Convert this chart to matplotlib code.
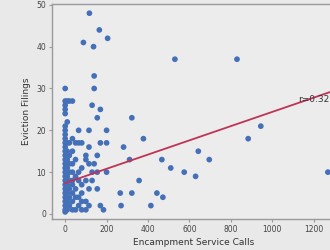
import matplotlib
matplotlib.use('Agg')
import matplotlib.pyplot as plt

# encampment service calls vs eviction filings
calls = [
    # x = 0 column
    0, 0, 0, 0, 0, 0, 0, 0, 0, 0, 0, 0, 0, 0, 0, 0, 0, 0, 0, 0, 0, 0, 0, 0, 0, 0, 0,
    # small-call cluster
    10, 10, 10, 10, 10, 10, 10, 10, 10, 10, 10,
    20, 20, 20, 20, 20, 20, 20, 20, 20,
    35, 35, 35, 35, 35, 35, 35, 35, 35, 35,
    50, 50, 50, 50, 50, 50,
    65, 65, 65, 65, 65, 65,
    80, 80, 80, 80, 80, 80,
    100, 100, 100, 100, 100,
    115, 115, 115, 115, 115,
    130, 130, 130,
    140, 140, 140,
    155, 155, 155, 155,
    170, 170, 170,
    185, 200, 200, 200,
    # upper outliers
    88, 117, 137, 165, 205,
    # spread-out points
    266, 270, 282, 311, 322, 322, 357, 378, 414, 443, 467, 472,
    510, 530, 575, 630, 643, 696, 830, 884, 945, 1269,
]
filings = [
    1, 2, 3, 4, 5, 6, 7, 8, 9, 10, 11, 12, 13, 14, 15, 16, 17, 18, 19, 20, 21, 24, 25, 26, 27, 30, 0.5,
    1, 3, 5, 7, 9, 11, 13, 15, 17, 22, 27,
    2, 4, 6, 8, 10, 12, 14, 17, 27,
    1, 3, 5, 7, 8, 10, 12, 15, 18, 27,
    1, 4, 6, 9, 13, 17,
    2, 4, 8, 10, 17, 20,
    1, 3, 5, 7, 11, 17,
    1, 3, 8, 13, 14,
    2, 6, 12, 16, 20,
    8, 10, 26,
    12, 30, 33,
    6, 10, 14, 23,
    2, 17, 25,
    1, 10, 17, 20,
    41, 48, 40, 44, 42,
    5, 2, 16, 13, 23, 5, 8, 18, 2, 5, 13, 4,
    11, 37, 10, 9, 15, 13, 37, 18, 21, 10,
]

# regression line end points and correlation label
fit_x = [0, 1300]
fit_y = [7.4, 29.5]
r_label = 'r=0.32'

fig = plt.figure(figsize=(3.3, 2.5), dpi=100)
fig.patch.set_facecolor('#e9e9e9')
ax = fig.add_axes([0.158, 0.124, 0.855, 0.86])
ax.set_facecolor('#ececec')

ax.scatter(calls, filings, s=17, color='#4470b8', edgecolors='none', zorder=2)
ax.plot(fit_x, fit_y, color='#c03355', linewidth=1.3, zorder=3)
ax.text(1125, 27.3, r_label, fontsize=6.5, color='#333333', va='center', zorder=4)

ax.set_xlim(-63, 1300)
ax.set_ylim(-1.2, 50.2)
ax.set_xticks([0, 200, 400, 600, 800, 1000, 1200])
ax.set_yticks([0, 10, 20, 30, 40, 50])

for s in ax.spines.values():
    s.set_color('#9a9a9a')
    s.set_linewidth(1)
ax.tick_params(length=2.5, width=0.8, color='#9a9a9a', labelsize=5.5,
               labelcolor='#444444', pad=2)

ax.set_xlabel('Encampment Service Calls', fontsize=6.5, color='#333333', labelpad=3)
ax.set_ylabel('Eviction Filings', fontsize=6.5, color='#333333', labelpad=4)
# title sits mostly above the visible area, as in the cropped reference
ax.set_title('Eviction Filings vs Service Calls', fontsize=10, pad=6.5)

fig.savefig('out.png', dpi=100, facecolor=fig.get_facecolor())
